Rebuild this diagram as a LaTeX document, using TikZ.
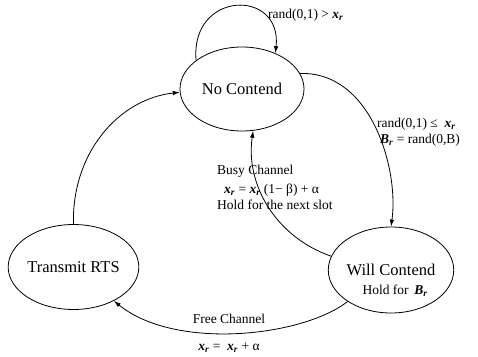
\documentclass[tikz,border=0pt]{standalone}
\usepackage{fontspec}
\setmainfont{Liberation Serif}
\usetikzlibrary{arrows.meta,positioning,shapes.geometric}

\newcommand{\xr}{\textbf{\textit{x}}\textsubscript{\textbf{\textit{r}}}}
\newcommand{\bBr}{\textbf{\textit{B}}\textsubscript{\textbf{\textit{r}}}}

\begin{document}
\begin{tikzpicture}[
      x=1pt,y=1pt,
      mystate/.style={
         ellipse,
         draw=black,
         line width=0.8pt,
         inner sep=0pt,
         font=\fontsize{16.5}{18}\selectfont},
      mylabel/.style={
         inner sep=0pt,
         font=\fontsize{13.5}{16}\selectfont},
      myarrow/.style={-{Latex[length=7pt,width=4.5pt]},line width=0.8pt},
      on grid
      ]
      \useasboundingbox (0,0) rectangle (478,-356);

      \node[mystate,minimum width=124pt,minimum height=84pt] (nc) at (242,-89) {No Contend};
      \node[mystate,minimum width=113pt,minimum height=86pt,
            below right=181pt and 149pt of nc] (wc) {Will Contend};
      \node[mystate,minimum width=113pt,minimum height=85pt,
            below left=178pt and 168.5pt of nc] (tr) {Transmit RTS};
      \node[mylabel,below right=21pt and 4pt of wc] (wch) {Hold for \,\bBr};

      % labels of the transitions
      \node[mylabel,anchor=west] (l1) at (268,-15) {rand(0,1) > \xr};
      \node[mylabel,anchor=west,align=left] (l2) at (377,-132)
         {rand(0,1) ≤ \ \xr\\[0pt]\hspace*{3pt}\bBr{} = rand(0,B)};
      \node[mylabel,anchor=north west,align=left] (l3) at (217,-165)
         {Busy Channel\\[3pt]\hspace*{7pt}\xr{} = \xr{} (1− β) + α\\Hold for the next slot};
      \node[mylabel,align=center] (l4) at (229,-333)
         {Free Channel\\[11pt]\xr{} = \ \xr{} + α};

      \draw [myarrow] (nc.148) .. controls +(-6,70) and +(7,65) .. (nc.47);
      \draw [myarrow] (nc.15) .. controls +(72,2) and +(8,56) .. (wc.north);
      \draw [myarrow] (wc.167) .. controls +(-55,19) and +(-8,-54) .. (nc.-75);
      \draw [myarrow] (wc.216) .. controls +(-45,-35) and +(62,-50) .. (tr.-40);
      \draw [myarrow] (tr.north) .. controls +(-2,70) and +(-62,-7) .. (nc.183);
\end{tikzpicture}
\end{document}
